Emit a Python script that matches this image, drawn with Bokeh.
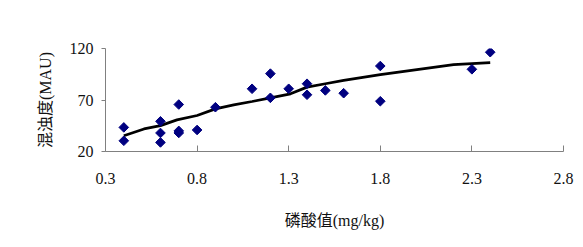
from bokeh.plotting import figure
from bokeh.models import Range1d, FixedTicker
from bokeh.embed import file_html
from bokeh.resources import INLINE
import math

# data
pts_x = [0.40, 0.40, 0.60, 0.60, 0.60, 0.70, 0.70, 0.70, 0.80, 0.90, 1.10, 1.20, 1.20, 1.30,
         1.40, 1.40, 1.50, 1.60, 1.80, 1.80, 2.30, 2.40]
pts_y = [43.4, 30.4, 49.3, 38.0, 28.8, 65.6, 38.0, 40.0, 40.9, 63.0, 80.9, 95.6, 72.1, 80.9,
         85.8, 75.1, 79.3, 76.6, 103.0, 68.8, 99.8, 116.4]

trend_x = [0.40, 0.51, 0.60, 0.69, 0.80, 0.90, 1.00, 1.10, 1.20, 1.31, 1.40, 1.50, 1.60, 1.80,
           2.00, 2.20, 2.30, 2.40]
trend_y = [35.3, 41.9, 45.1, 50.7, 54.9, 61.4, 65.3, 68.5, 72.1, 76.0, 82.5, 85.8, 89.0, 94.6,
           99.5, 104.4, 105.4, 106.3]

x_ticks = [0.3, 0.8, 1.3, 1.8, 2.3, 2.8]
y_ticks = [20, 70, 120]
x_title = "磷酸值(mg/kg)"
y_title = "混浊度(MAU)"

FONT = "Liberation Serif, Noto Sans CJK SC"

p = figure(width=575, height=238, output_backend="svg", toolbar_location=None,
           x_range=Range1d(0.3, 2.8), y_range=Range1d(20, 120),
           min_border_left=105, min_border_right=12, min_border_top=48, min_border_bottom=87)
p.outline_line_color = None
p.grid.visible = False
p.background_fill_color = "white"
p.border_fill_color = "white"

p.line(trend_x, trend_y, line_color="black", line_width=2.7)
p.scatter(pts_x, pts_y, marker="square", size=6.8, angle=math.pi / 4,
          fill_color="#000080", line_color="#000080")

xa = p.xaxis[0]
xa.ticker = FixedTicker(ticks=x_ticks)
xa.major_tick_in = 6
xa.major_tick_out = 0
xa.minor_tick_line_color = None
xa.major_label_standoff = 21
xa.axis_label = x_title
xa.axis_label_standoff = 25
xa.axis_line_color = "#808080"
xa.major_tick_line_color = "#808080"

ya = p.yaxis[0]
ya.ticker = FixedTicker(ticks=y_ticks)
ya.major_tick_in = 0
ya.major_tick_out = 4
ya.minor_tick_line_color = None
ya.major_label_standoff = 8
ya.axis_label = y_title
ya.axis_label_standoff = 13
ya.axis_line_color = "#808080"
ya.major_tick_line_color = "#808080"

for ax in (xa, ya):
    ax.major_label_text_font = FONT
    ax.major_label_text_font_size = "16px"
    ax.major_label_text_color = "#111111"
    ax.axis_label_text_font = FONT
    ax.axis_label_text_font_size = "16px"
    ax.axis_label_text_font_style = "normal"
    ax.axis_label_text_color = "#111111"

open("out.html", "w").write(file_html(p, INLINE))
